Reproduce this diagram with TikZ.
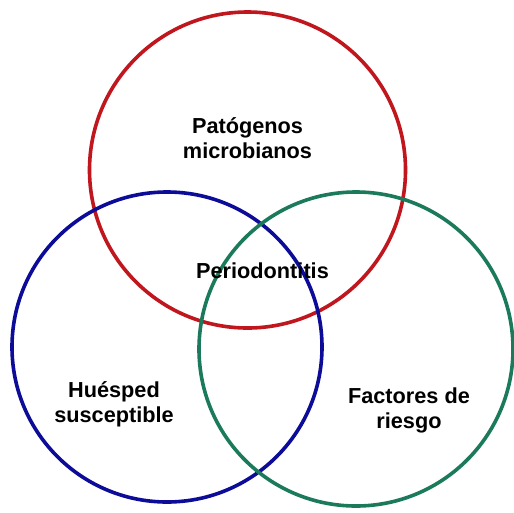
\documentclass[tikz,border=0pt]{standalone}
\usepackage{fontspec}
\setmainfont{Liberation Sans}
\definecolor{cred}{HTML}{C0161E}
\definecolor{cblue}{HTML}{0C0C98}
\definecolor{cgreen}{HTML}{1C7A5C}
\begin{document}
\begin{tikzpicture}[x=1pt,y=-1pt,
  ring/.style={line width=3.6pt},
  lbl/.style={font=\fontsize{21.7}{25}\selectfont\bfseries, align=center, inner sep=0pt, anchor=base}]
\useasboundingbox[fill=white] (0,0) rectangle (514,512);
\draw[ring, cred] (247.5,170) circle[radius=158];
\draw[ring, cblue] (167,347) circle[radius=155];
\draw[ring, cgreen] (356,349) circle[radius=157];
\node[lbl] (pat) at (247.5,158) {Patógenos\\microbianos};
\node[lbl] (per) at (262.5,278) {Periodontitis};
\node[lbl] (hue) at (114,422) {Huésped\\susceptible};
\node[lbl] (fac) at (409,428) {Factores de\\riesgo};
\end{tikzpicture}
\end{document}
